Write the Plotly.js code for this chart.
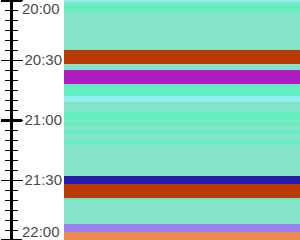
<!DOCTYPE html>
<html>
<head>
<meta charset="utf-8">
<script src="https://cdn.plot.ly/plotly-3.0.1.min.js"></script>
<style>html,body{margin:0;padding:0;background:#fff;}#chart{width:300px;height:240px;}</style>
</head>
<body>
<div id="chart"></div>
<script>
// Segment data (clock times) and state of each segment
const segStart = ['20:00:00','20:01:00','20:02:30','20:06:00','20:25:00','20:32:00','20:35:00','20:42:00','20:48:00','20:51:00','20:56:00','21:00:00','21:01:00','21:03:00','21:05:00','21:07:00','21:10:00','21:12:00','21:28:00','21:32:00','21:39:00','21:40:00','21:52:00','21:56:00'];
const segEnd   = ['20:01:00','20:02:30','20:06:00','20:25:00','20:32:00','20:35:00','20:42:00','20:48:00','20:51:00','20:56:00','21:00:00','21:01:00','21:03:00','21:05:00','21:07:00','21:10:00','21:12:00','21:28:00','21:32:00','21:39:00','21:40:00','21:52:00','21:56:00','22:00:00'];
const segState = ['F','A','B','A','C','A','D','B','F','A','B','A','B','A','B','A','B','A','E','C','B','A','G','H'];
const tickVals = ['20:00','20:30','21:00','21:30','22:00'];
const tickLabels = ['20:00','20:30','21:00','21:30','22:00'];

const stateColor = {A:'#84e3c8', B:'#64eec0', C:'#b83c08', D:'#b21ac2', E:'#2a1aa8', F:'#90f0ee', G:'#9b82f0', H:'#ee8a4c'};

function toMin(t){ const p=t.split(':').map(Number); return (p[0]-20)*60 + p[1] + (p[2]||0)/60; }

const base = segStart.map(toMin);
const dur = segEnd.map((e,i)=>toMin(e)-base[i]);
const tv = tickVals.map(toMin);
const yMin = tv[0], yMax = tv[tv.length-1];

const trace = {
  type:'bar', x: segStart.map(()=>0.5), y: dur, base: base, width: 1,
  marker:{color: segState.map(s=>stateColor[s]), line:{width:0}},
  hoverinfo:'skip', xaxis:'x', yaxis:'y', showlegend:false
};

const font = {family:'Liberation Sans, Arial, sans-serif', size:15, color:'#4a4a4a'};
const midText = tickLabels.map((t,i)=> (i===0||i===tickLabels.length-1)?'':t);
const common = {range:[yMax,yMin], anchor:'free', position:0.035, showgrid:false, zeroline:false, tickcolor:'#000', fixedrange:true};
const minor = {tickmode:'linear', tick0:0, dtick:5, ticklen:5.5, tickwidth:1, tickcolor:'#000', showgrid:false};

const layout = {
  width:300, height:240, margin:{l:0,r:0,t:0,b:0},
  paper_bgcolor:'#fff', plot_bgcolor:'#fff', barmode:'overlay', bargap:0,
  xaxis:{domain:[64/300,1], range:[0,1], visible:false, fixedrange:true},
  yaxis:Object.assign({}, common, {side:'right', showline:true, linecolor:'#000', linewidth:3,
    tickmode:'array', tickvals:tv, ticktext:midText, ticks:'outside', ticklen:10, tickwidth:1,
    tickfont:font, ticklabelstandoff:-1, minor:Object.assign({ticks:'outside'}, minor)}),
  yaxis2:Object.assign({}, common, {overlaying:'y', side:'left', showline:false,
    tickmode:'array', tickvals:tv, ticks:'outside', ticklen:10, tickwidth:1, showticklabels:false,
    minor:Object.assign({ticks:'outside'}, minor)}),
  yaxis3:Object.assign({}, common, {overlaying:'y', side:'right', showline:false,
    tickmode:'array', tickvals:[tv[0],tv[2],tv[4]], ticks:'outside', ticklen:10, tickwidth:3, showticklabels:false}),
  yaxis4:Object.assign({}, common, {overlaying:'y', side:'left', showline:false,
    tickmode:'array', tickvals:[tv[0],tv[2],tv[4]], ticks:'outside', ticklen:10, tickwidth:3, showticklabels:false}),
  annotations:[
    {text:tickLabels[0], xref:'paper', yref:'y', x:21/300, y:yMin, xanchor:'left', yanchor:'top', showarrow:false, font:font, borderpad:0, yshift:1.5},
    {text:tickLabels[tickLabels.length-1], xref:'paper', yref:'y', x:21/300, y:yMax, xanchor:'left', yanchor:'bottom', showarrow:false, font:font, borderpad:0, yshift:-1}
  ]
};

const dummy2 = {type:'scatter', x:[], y:[], yaxis:'y2', xaxis:'x', showlegend:false, hoverinfo:'skip'};
const dummy3 = {type:'scatter', x:[], y:[], yaxis:'y3', xaxis:'x', showlegend:false, hoverinfo:'skip'};
const dummy4 = {type:'scatter', x:[], y:[], yaxis:'y4', xaxis:'x', showlegend:false, hoverinfo:'skip'};

Plotly.newPlot('chart', [trace, dummy2, dummy3, dummy4], layout, {displayModeBar:false, staticPlot:true});
</script>
</body>
</html>
